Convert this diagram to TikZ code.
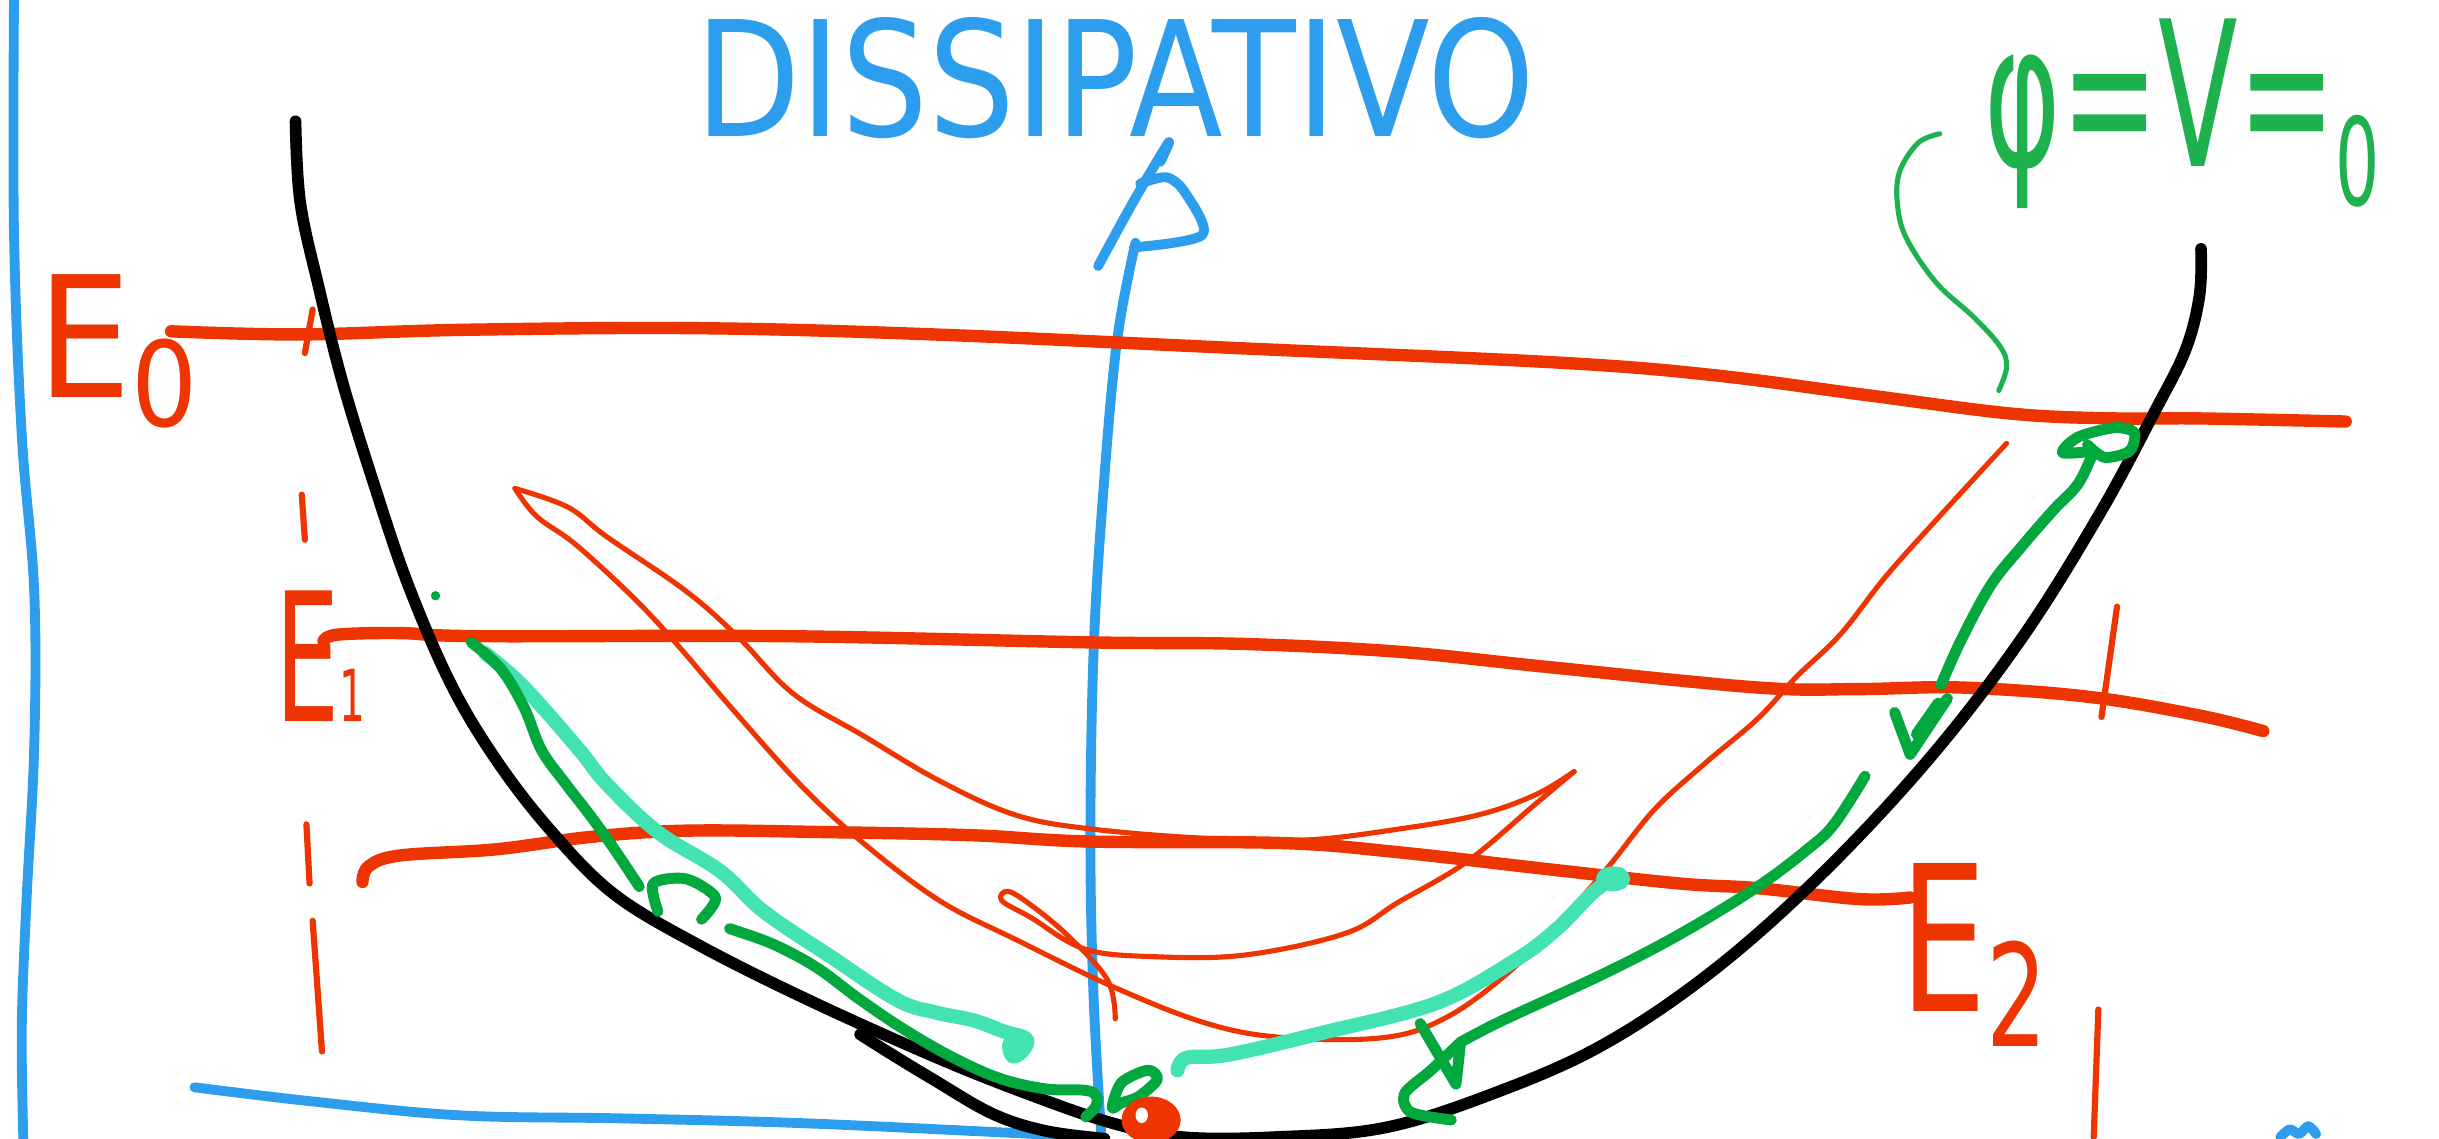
\documentclass[tikz,border=0pt]{standalone}
\usepackage{fontspec}
\setmainfont{DejaVu Sans}
\usepackage{graphicx}
\newlength\pxu \setlength\pxu{0.15mm}
\definecolor{cblue}{RGB}{45,157,237}
\definecolor{cred}{RGB}{238,52,0}
\definecolor{cdgreen}{RGB}{0,168,62}
\definecolor{cteal}{RGB}{66,226,178}
\definecolor{ctgreen}{RGB}{30,178,78}
\begin{document}
\begin{tikzpicture}[x=0.15mm,y=-0.15mm,
  pen/.style={line cap=round, line join=round},
  bluepen/.style={pen, draw=cblue, line width=2.7pt},
  redpen/.style={pen, draw=cred, line width=3.4pt},
  redthin/.style={pen, draw=cred, line width=1.4pt},
  redtick/.style={pen, draw=cred, line width=1.7pt},
  blackpen/.style={pen, draw=black, line width=3.2pt},
  dgreenpen/.style={pen, draw=cdgreen, line width=3.0pt},
  tealpen/.style={pen, draw=cteal, line width=3.9pt},
  tgreenpen/.style={pen, draw=ctgreen, line width=1.4pt},
  lbl/.style={inner sep=0pt, outer sep=0pt}]
\useasboundingbox (0,0) rectangle (1568,732);

% blue frame lines and axis
\draw[bluepen] plot[smooth, tension=0.6] coordinates {(9,0) (9,150) (14,280) (22,380) (22,480) (17,580) (14,660) (15,732)};
\draw[bluepen] plot[smooth, tension=0.6] coordinates {(125,699) (200,708) (295,717) (400,719) (514,722) (644,728) (705,731)};
\draw[bluepen] plot[smooth, tension=0.6] coordinates {(708,730) (703,640) (701,540) (703,420) (709,320) (718,220) (730,156)};
\draw[bluepen] plot[smooth, tension=0.6] coordinates {(706,171) (729,129) (751,92) (746,104)};
\draw[bluepen] plot[smooth, tension=0.5] coordinates {(733,118) (750,114) (762,124) (773,151) (729,159)};
\draw[bluepen] plot[smooth, tension=0.5] coordinates {(1466,731) (1472,726) (1478,729) (1484,724) (1489,729)};

% red energy levels
\draw[redpen] plot[smooth, tension=0.6] coordinates {(110,213) (193,215) (300,212) (450,211) (600,215) (800,224) (1000,233) (1100,241) (1200,254) (1294,266) (1360,269) (1414,269) (1508,271)};
\draw[redpen] plot[smooth, tension=0.6] coordinates {(208,412) (217,408) (257,407) (309,409) (505,409) (702,413) (800,414) (899,419) (997,429) (1130,442) (1195,443) (1261,442) (1343,448) (1414,460) (1455,470)};
\draw[redpen] plot[smooth, tension=0.6] coordinates {(233,567) (237,557) (257,550) (319,546) (380,538) (442,534) (534,535) (626,537) (700,541) (825,542) (900,548) (997,559) (1080,568) (1130,571) (1195,578) (1228,577)};

% red ticks
\draw[redtick] (201,199) -- (196,227);
\draw[redtick] (194,318) -- (196,347);
\draw[redtick] (197,530) -- (199,568);
\draw[redtick] (201,592) -- (207,676);
\draw[redtick] (1361,390) -- (1351,461);
\draw[redtick] (1349,649) -- (1346,731);

% black potential well
\draw[blackpen] plot[smooth, tension=0.6] coordinates {(190,78) (193,130) (205,185) (220,245) (240,310) (262,375) (290,440) (320,490) (355,535) (395,575) (450,608) (520,643) (600,679) (660,703) (715,722) (760,731) (820,731) (890,725) (960,703) (1030,672) (1100,625) (1170,563) (1240,488) (1300,410) (1350,330) (1385,265) (1405,225) (1414,190) (1415,160)};
\draw[blackpen] plot[smooth, tension=0.6] coordinates {(553,665) (572,677) (600,694) (638,716) (672,727) (710,732)};

% thin red trajectories
\draw[redthin] plot[smooth, tension=0.6] coordinates {(331,314) (365,326) (390,345) (441,380) (475,410) (510,446) (555,473) (604,502) (653,524) (702,533) (776,539) (840,540) (899,533) (950,524) (987,511) (1012,496)};
\draw[redthin] plot[smooth, tension=0.6] coordinates {(1012,496) (987,517) (943,554) (899,580) (865,600) (800,614) (741,615) (697,610) (663,590) (644,579) (648,573) (663,582) (687,602) (712,630) (717,655)};
\draw[redthin] plot[smooth, tension=0.6] coordinates {(331,314) (345,332) (370,350) (407,384) (435,414) (471,456) (515,505) (555,542) (604,579) (653,604) (717,635) (776,658) (825,667) (890,667) (930,654) (970,625) (1005,590) (1035,556) (1064,520) (1097,490) (1130,462) (1155,435) (1183,408) (1212,371) (1245,334) (1290,285)};

% turquoise paths
\draw[tealpen] plot[smooth, tension=0.6] coordinates {(312,420) (331,436) (349,455) (374,484) (390,504) (423,535) (463,560) (491,586) (534,615) (577,643) (602,651) (626,656) (645,663) (660,668) (657,676) (651,679) (649,671) (656,666)};
\draw[tealpen] plot[smooth, tension=0.6] coordinates {(757,688) (763,680) (790,678) (850,664) (923,645) (973,618) (1000,598) (1025,573) (1041,562)};
\fill[cteal] (1037,565) ellipse [x radius=11, y radius=8];

% dark green paths
\fill[cdgreen] (280,383) circle [radius=3];
\draw[dgreenpen] plot[smooth, tension=0.6] coordinates {(303,413) (322,430) (337,455) (348,482) (363,503) (380,525) (395,546) (411,570)};
\draw[dgreenpen] plot[smooth, tension=0.5] coordinates {(423,586) (420,568) (441,565) (460,577) (451,591)};
\draw[dgreenpen] plot[smooth, tension=0.6] coordinates {(469,597) (497,607) (525,622) (552,642) (580,661) (611,679) (642,693) (672,700) (698,701) (705,705) (704,712) (698,718)};
\draw[dgreenpen] plot[smooth cycle, tension=0.5] coordinates {(715,712) (721,696) (738,688) (744,694) (732,705) (721,709)};
\draw[dgreenpen] (913,658) -- (936,697) -- (939,670);
\draw[dgreenpen] plot[smooth, tension=0.5] coordinates {(939,670) (920,688) (903,703) (907,715) (933,720)};
\draw[dgreenpen] plot[smooth, tension=0.6] coordinates {(939,670) (966,656) (1031,626) (1081,600) (1130,570) (1162,546) (1179,530) (1199,499)};
\draw[dgreenpen] (1218,458) -- (1228,485) -- (1252,449);
\draw[dgreenpen] (1232,472) -- (1246,452);
\draw[dgreenpen] plot[smooth, tension=0.6] coordinates {(1248,440) (1261,411) (1280,376) (1300,351) (1320,328) (1336,311) (1346,290)};
\draw[dgreenpen] plot[smooth, tension=0.5] coordinates {(1346,290) (1326,291) (1336,281) (1359,275) (1372,278) (1369,290) (1353,294) (1342,286)};

% red blob at the bottom of the well
\fill[cred] (740,720) ellipse [x radius=19, y radius=15];
\fill[white] (734,717) ellipse [x radius=4, y radius=5];

% thin green pointer
\draw[tgreenpen] plot[smooth, tension=0.6] coordinates {(1247,86) (1233,92) (1221,111) (1220,133) (1226,154) (1245,182) (1269,204) (1286,223) (1290,236) (1285,251)};

% labels
\node[lbl, text=cblue] (dissip) at (717,50) {\resizebox*{540\pxu}{78\pxu}{DISSIPATIVO}};
\node[lbl, text=cred] (e0) at (78,226) {\resizebox*{108\pxu}{99\pxu}{E\textsubscript{0}}};
\node[lbl, text=cred] (e1) at (206,422) {\resizebox*{58\pxu}{84\pxu}{E{\fontsize{4}{4}\selectfont 1}}};
\node[lbl, text=cred] (e2) at (1271,614) {\resizebox*{99\pxu}{118\pxu}{E\textsubscript{2}}};
\node[lbl, text=ctgreen] (phi) at (1403,73) {\resizebox*{254\pxu}{122\pxu}{φ=V=\raisebox{-0.35ex}{\fontsize{6}{6}\selectfont 0}}};
\end{tikzpicture}
\end{document}
